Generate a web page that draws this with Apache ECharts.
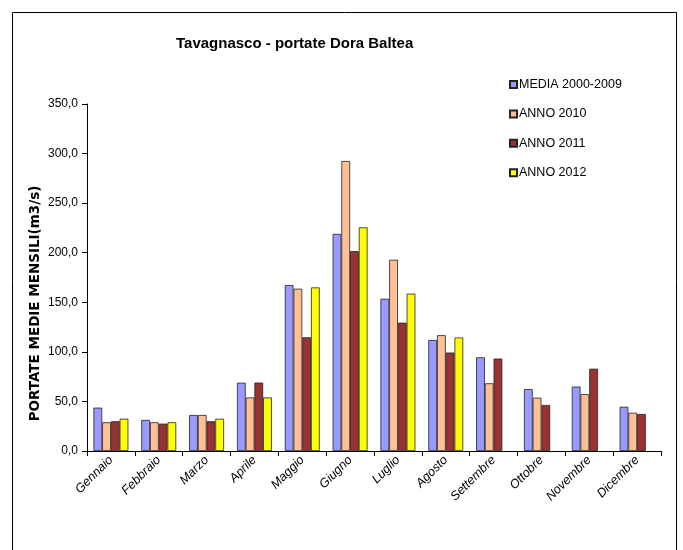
<!DOCTYPE html>
<html><head><meta charset="utf-8">
<script src="https://cdn.jsdelivr.net/npm/echarts@6/dist/echarts.min.js"></script>
<style>html,body{margin:0;padding:0;background:#fff}#c{width:683px;height:550px}</style>
</head><body><div id="c"></div>
<script>
var categories = ['Gennaio','Febbraio','Marzo','Aprile','Maggio','Giugno','Luglio','Agosto','Settembre','Ottobre','Novembre','Dicembre'];
var seriesNames = ['MEDIA 2000-2009','ANNO 2010','ANNO 2011','ANNO 2012'];
var media = [43.7, 31.3, 36.3, 68.9, 167.4, 219.0, 153.6, 112.0, 94.5, 62.5, 65.0, 44.7];
var anno2010 = [29.0, 29.0, 36.3, 54.0, 163.7, 292.5, 192.9, 116.8, 68.3, 53.8, 57.3, 38.6];
var anno2011 = [30.0, 27.6, 30.0, 69.0, 114.7, 201.6, 129.4, 99.3, 93.2, 46.4, 83.0, 37.3];
var anno2012 = [32.6, 29.0, 32.6, 54.0, 165.0, 225.6, 158.7, 114.5, null, null, null, null];
var yTicks = [0, 50, 100, 150, 200, 250, 300, 350];

var colors = ['#9999FF', '#FFC094', '#993333', '#FFFF00'];
var data = [media, anno2010, anno2011, anno2012];
var chart = echarts.init(document.getElementById('c'));
var font = '"Liberation Sans", Arial, sans-serif';
chart.setOption({
  animation: false,
  textStyle: {fontFamily: font},
  title: {text: 'Tavagnasco - portate Dora Baltea', left: 171, top: 31,
    textStyle: {fontSize: 15, fontWeight: 'bold', color: '#000', fontFamily: font}},
  legend: {orient: 'vertical', left: 504, top: 73, itemWidth: 7, itemHeight: 7, itemGap: 16.4,
    icon: 'rect', data: seriesNames,
    textStyle: {fontSize: 12.5, color: '#000', padding: [0,0,0,-3]}},
  graphic: [{type: 'rect', shape: {x: 12.5, y: 12.5, width: 664, height: 560},
    style: {fill: 'none', stroke: '#000', lineWidth: 1}, z: -1}],
  grid: {left: 87, right: 22, top: 104, bottom: 99},
  xAxis: {type: 'category', data: categories,
    axisLine: {lineStyle: {color: '#000', width: 1}},
    axisTick: {show: true, length: 5, lineStyle: {color: '#000'}},
    axisLabel: {rotate: 45, fontSize: 12.5, fontStyle: 'italic', color: '#000', interval: 0, margin: 7}},
  yAxis: {type: 'value', min: yTicks[0], max: yTicks[yTicks.length-1], interval: 50,
    name: 'PORTATE MEDIE MENSILI(m3/s)', nameLocation: 'middle', nameGap: 45, nameMoveOverlap: false,
    nameTextStyle: {fontSize: 13.5, fontWeight: 'bold', color: '#000', fontFamily: '"DejaVu Sans", sans-serif',
      padding: [0, 52, 0, 0]},
    axisLine: {show: true, lineStyle: {color: '#000'}},
    axisTick: {show: true, length: 5, lineStyle: {color: '#000'}},
    splitLine: {show: false},
    axisLabel: {fontSize: 12, color: '#000', margin: 9,
      formatter: function(v){ return v.toFixed(1).replace('.', ','); }}},
  series: seriesNames.map(function(n, i){
    return {name: n, type: 'bar', data: data[i], barGap: '0%', barCategoryGap: '27%',
      itemStyle: {color: colors[i], borderColor: '#222', borderWidth: 0.8}};
  })
});
</script></body></html>
